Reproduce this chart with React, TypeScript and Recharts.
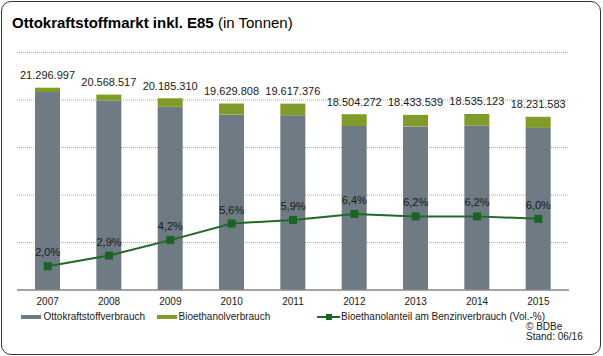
import React from "react";
import {
  ComposedChart,
  Bar,
  Line,
  XAxis,
  YAxis,
  CartesianGrid,
  LabelList,
} from "recharts";

const years = ["2007", "2008", "2009", "2010", "2011", "2012", "2013", "2014", "2015"];
const totals = [21296997, 20568517, 20185310, 19629808, 19617376, 18504272, 18433539, 18535123, 18231583];
const totalLabels = ["21.296.997", "20.568.517", "20.185.310", "19.629.808", "19.617.376", "18.504.272", "18.433.539", "18.535.123", "18.231.583"];
const bioethanol = [460000, 625000, 900000, 1170000, 1230000, 1250000, 1210000, 1230000, 1170000];
const shares = [2.0, 2.9, 4.2, 5.6, 5.9, 6.4, 6.2, 6.2, 6.0];
const shareLabels = ["2,0%", "2,9%", "4,2%", "5,6%", "5,9%", "6,4%", "6,2%", "6,2%", "6,0%"];
const yTicks = [0, 5000000, 10000000, 15000000, 20000000, 25000000];

const data = years.map((y, i) => ({
  year: y,
  otto: totals[i] - bioethanol[i],
  bio: bioethanol[i],
  share: shares[i],
  totalLabel: totalLabels[i],
  shareLabel: shareLabels[i],
}));

const FONT = "'Liberation Sans', Arial, sans-serif";
const GREY = "#6e7a84";
const OLIVE = "#809b2a";
const LINE = "#1f6b26";

const TotalLabel = (props: any) => {
  const { x, y, width, index } = props;
  return (
    <text
      x={x + width / 2}
      y={y - 12.5}
      textAnchor="middle"
      dominantBaseline="central"
      fontSize={11}
      fontFamily={FONT}
      fill="#1a1a1a"
    >
      {totalLabels[index]}
    </text>
  );
};

const ShareLabel = (props: any) => {
  const { x, y, index } = props;
  return (
    <text
      x={x}
      y={y - 14}
      textAnchor="middle"
      dominantBaseline="central"
      fontSize={11}
      fontFamily={FONT}
      fill="#1a1a1a"
    >
      {shareLabels[index]}
    </text>
  );
};

const SquareDot = (props: any) => {
  const { cx, cy, index } = props;
  return <rect key={"d" + index} x={cx - 4} y={cy - 4} width={8} height={8} fill="#1b6322" />;
};

const LegendBlock = () => (
  <div style={{ position: "absolute", left: 0, top: 308.5, width: 603, height: 20, fontFamily: FONT, fontSize: 10, color: "#1a1a1a" }}>
    <div style={{ position: "absolute", left: 21, top: 6, width: 20, height: 4, background: GREY }} />
    <div style={{ position: "absolute", left: 43.5, top: 2, lineHeight: "12px", whiteSpace: "nowrap" }}>Ottokraftstoffverbrauch</div>
    <div style={{ position: "absolute", left: 157, top: 6, width: 20, height: 4, background: OLIVE }} />
    <div style={{ position: "absolute", left: 178.5, top: 2, lineHeight: "12px", whiteSpace: "nowrap" }}>Bioethanolverbrauch</div>
    <div style={{ position: "absolute", left: 317, top: 7, width: 23, height: 2, background: LINE }} />
    <div style={{ position: "absolute", left: 325.5, top: 5, width: 6, height: 6, background: "#1b6322" }} />
    <div style={{ position: "absolute", left: 341, top: 2, lineHeight: "12px", whiteSpace: "nowrap" }}>
      Bioethanolanteil am Benzinverbrauch (Vol.-%)
    </div>
  </div>
);

export default function App() {
  return (
    <div style={{ position: "absolute", left: 0, top: 0, width: 603, height: 356, background: "#fff", overflow: "hidden" }}>
      <div
        style={{
          position: "absolute",
          left: 1,
          top: 1,
          width: 600,
          height: 354,
          boxSizing: "border-box",
          border: "1.5px solid #333",
          borderRadius: 10,
        }}
      />
      <div
        style={{
          position: "absolute",
          left: 12,
          top: 14.5,
          fontFamily: FONT,
          fontSize: 15,
          lineHeight: "15px",
          whiteSpace: "nowrap",
          color: "#000",
        }}
      >
        <span style={{ fontWeight: "bold" }}>Ottokraftstoffmarkt inkl. E85</span> (in Tonnen)
      </div>
      <div style={{ position: "absolute", left: 0, top: 0 }}>
        <ComposedChart
          width={603}
          height={356}
          data={data}
          margin={{ top: 52.5, right: 34, bottom: 36, left: 17 }}
          barCategoryGap="60%"
        >
          <CartesianGrid vertical={false} stroke="#a8a8a8" strokeDasharray="1 1" yAxisId="t" />
          <XAxis
            dataKey="year"
            height={30}
            axisLine={{ stroke: "#8c8c8c", strokeWidth: 1.5 }}
            tickLine={false}
            tick={{ fontSize: 10, fontFamily: FONT, fill: "#1a1a1a" }}
            interval={0}
          />
          <YAxis
            yAxisId="t"
            domain={[0, 25000000]}
            ticks={yTicks}
            interval={0}
            width={0}
            tick={{ fontSize: 1, fill: "transparent" }}
            axisLine={false}
            tickLine={false}
          />
          <YAxis yAxisId="p" orientation="right" domain={[0, 20]} width={0} tick={false} axisLine={false} tickLine={false} />
          <Bar yAxisId="t" dataKey="otto" stackId="a" fill={GREY} barSize={25} isAnimationActive={false} />
          <Bar yAxisId="t" dataKey="bio" stackId="a" fill={OLIVE} barSize={25} isAnimationActive={false}>
            <LabelList dataKey="totalLabel" content={TotalLabel} />
          </Bar>
          <Line
            yAxisId="p"
            dataKey="share"
            stroke={LINE}
            strokeWidth={2}
            dot={SquareDot}
            activeDot={false}
            isAnimationActive={false}
          >
            <LabelList dataKey="shareLabel" content={ShareLabel} />
          </Line>
        </ComposedChart>
      </div>
      <LegendBlock />
      <div style={{ position: "absolute", left: 526, top: 321, fontFamily: FONT, fontSize: 10, lineHeight: "12px", color: "#1a1a1a", whiteSpace: "nowrap" }}>
        © BDBe
      </div>
      <div style={{ position: "absolute", left: 526, top: 331, fontFamily: FONT, fontSize: 10, lineHeight: "12px", color: "#1a1a1a", whiteSpace: "nowrap" }}>
        Stand: 06/16
      </div>
    </div>
  );
}
